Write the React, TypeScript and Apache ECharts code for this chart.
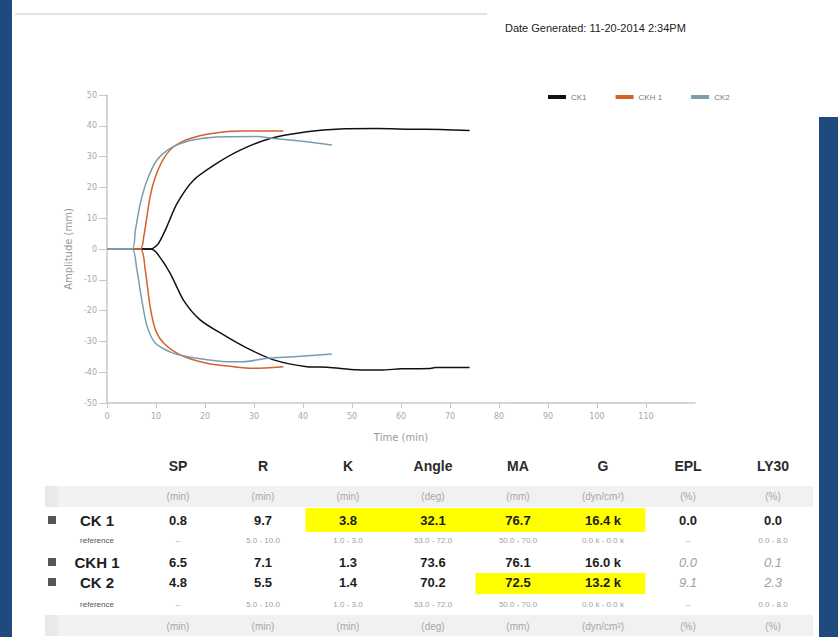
import React, { useEffect, useRef } from "react";
import * as echarts from "echarts";

// Amplitude traces [time (min), amplitude (mm)], upper and lower branch per sample
const ck1Upper: number[][] = [
  [0, 0], [8.9, 0], [10.2, 1.2], [10.9, 2.9], [12.2, 7.2], [14.3, 14.8], [17.7, 22.4], [22.4, 27.8],
  [27.2, 32.1], [33.3, 35.9], [40.8, 38.1], [47.6, 39], [55, 39.1], [62, 38.9], [68, 38.8], [74, 38.5],
];
const ck1Lower: number[][] = [
  [0, 0], [8.9, 0], [10.2, -1.4], [12.9, -7.9], [15.6, -16.6], [19, -23], [23.8, -27.9], [28.6, -32.2],
  [34, -36], [40.8, -38.2], [45, -38.4], [51, -39.2], [56, -39.3], [60, -38.9], [66, -38.8], [67, -38.5], [74, -38.5],
];
const ckh1Upper: number[][] = [
  [0, 0], [6.8, 0], [7.5, 4], [8.8, 17], [9.9, 23.5], [11.6, 29.4], [13.6, 33.2], [17, 35.9],
  [21.8, 37.6], [27.2, 38.3], [36, 38.3],
];
const ckh1Lower: number[][] = [
  [0, 0], [6.8, 0], [7.8, -6.8], [8.8, -18.7], [9.9, -26.3], [11.6, -30.6], [15, -34.4], [20.4, -37.1],
  [25.8, -38.2], [29.9, -38.7], [36, -38.2],
];
const ck2Upper: number[][] = [
  [0, 0], [5.1, 0], [5.8, 6.2], [6.8, 14.8], [8.2, 22.4], [10.2, 28.9], [12.9, 32.7], [17, 35.2],
  [21.8, 36.3], [30.6, 36.5], [34, 35.9], [40.8, 34.8], [45.9, 33.8],
];
const ck2Lower: number[][] = [
  [0, 0], [5.1, 0], [6.1, -6.8], [7.1, -16.6], [8.2, -25.2], [9.9, -30.6], [13.6, -33.9], [18.4, -35.5],
  [24.5, -36.6], [27.8, -36.6], [32.7, -35.5], [38.1, -35], [45.9, -34.1],
];

const sampleNames = ["CK1", "CKH 1", "CK2"];
const sampleColors = ["#111111", "#d5602a", "#7c9cb0"];

// Results table
const paramNames = ["SP", "R", "K", "Angle", "MA", "G", "EPL", "LY30"];
const paramUnits = ["(min)", "(min)", "(min)", "(deg)", "(mm)", "(dyn/cm²)", "(%)", "(%)"];
const referenceRanges = ["--", "5.0 - 10.0", "1.0 - 3.0", "53.0 - 72.0", "50.0 - 70.0", "0.0 k - 0.0 k", "--", "0.0 - 8.0"];
const ck1Values = ["0.8", "9.7", "3.8", "32.1", "76.7", "16.4 k", "0.0", "0.0"];
const ckh1Values = ["6.5", "7.1", "1.3", "73.6", "76.1", "16.0 k", "0.0", "0.1"];
const ck2Values = ["4.8", "5.5", "1.4", "70.2", "72.5", "13.2 k", "9.1", "2.3"];
const ck1Flagged = [2, 3, 4, 5];
const ck2Flagged = [4, 5];

const SANS = "'Liberation Sans', Arial, sans-serif";
const AXIS_FONT = "'DejaVu Sans', Verdana, sans-serif";

function buildTable(): any[] {
  const els: any[] = [];
  const colX = paramNames.map((_, i) => 178 + 85 * i);
  const colW = 85;
  const text = (t: string, x: number, y: number, font: string, fill: string, z = 3) => ({
    type: "text",
    z,
    style: { text: t, x, y, font, fill, textAlign: "center", textVerticalAlign: "middle", verticalAlign: "middle" },
  });

  // unit bands
  [[486, 21], [615, 21]].forEach(([y, h]) => {
    els.push({ type: "rect", z: 1, shape: { x: 45, y, width: 768, height: h }, style: { fill: "#f1f1f1" } });
    els.push({ type: "rect", z: 1, shape: { x: 45, y, width: 13, height: h }, style: { fill: "#e9e9e9" } });
  });

  // flagged cells
  const flagRow = (cols: number[], y: number, h: number) => {
    const first = Math.min(...cols);
    const last = Math.max(...cols);
    els.push({
      type: "rect",
      z: 2,
      shape: { x: colX[first] - colW / 2, y, width: (last - first + 1) * colW, height: h },
      style: { fill: "#ffff00" },
    });
  };
  flagRow(ck1Flagged, 508, 24);
  flagRow(ck2Flagged, 573, 21);

  paramNames.forEach((p, i) => els.push(text(p, colX[i], 466, `bold 14px ${SANS}`, "#2b2b2b")));
  paramUnits.forEach((u, i) => {
    els.push(text(u, colX[i], 496, `10px ${SANS}`, "#a8a8a8"));
    els.push(text(u, colX[i], 626, `10px ${SANS}`, "#a8a8a8"));
  });

  const rows = [
    { name: "CK 1", y: 520, values: ck1Values, italicFrom: 99, ref: 540 },
    { name: "CKH 1", y: 562, values: ckh1Values, italicFrom: 6, ref: 0 },
    { name: "CK 2", y: 582, values: ck2Values, italicFrom: 6, ref: 604 },
  ];
  rows.forEach((r) => {
    els.push({ type: "rect", z: 3, shape: { x: 48, y: r.y - 4, width: 8, height: 8 }, style: { fill: "#555555" } });
    els.push(text(r.name, 97, r.y, `bold 15px ${SANS}`, "#1e1e1e"));
    r.values.forEach((v, i) => {
      if (i >= r.italicFrom) {
        els.push(text(v, colX[i], r.y, `italic 13px ${SANS}`, "#a0a0a0"));
      } else {
        els.push(text(v, colX[i], r.y, `bold 13px ${SANS}`, "#1e1e1e"));
      }
    });
    if (r.ref) {
      els.push(text("reference", 97, r.ref, `8px ${SANS}`, "#555555"));
      referenceRanges.forEach((v, i) => els.push(text(v, colX[i], r.ref, `8px ${SANS}`, "#a0a0a0")));
    }
  });
  return els;
}

export default function App() {
  const ref = useRef<HTMLDivElement>(null);

  useEffect(() => {
    document.body.style.margin = "0";
    const chart = echarts.init(ref.current!, null, { renderer: "svg" });

    const line = (name: string, color: string, data: number[][]) => ({
      type: "line",
      name,
      data,
      showSymbol: false,
      smooth: 0.25,
      lineStyle: { width: 1.5, color },
      itemStyle: { color },
    });

    chart.setOption({
      animation: false,
      backgroundColor: "#ffffff",
      grid: { left: 107, right: 143, top: 95, bottom: 234 },
      legend: {
        data: sampleNames,
        left: 543,
        top: 88,
        icon: "rect",
        itemWidth: 18,
        itemHeight: 4,
        itemGap: 29,
        textStyle: { fontSize: 8, color: "#777", fontFamily: SANS },
      },
      xAxis: {
        type: "value",
        min: 0,
        max: 120,
        interval: 10,
        name: "Time (min)",
        nameLocation: "middle",
        nameGap: 29,
        nameTextStyle: { fontSize: 10, color: "#999", fontFamily: AXIS_FONT },
        axisLine: { onZero: false, lineStyle: { color: "#c8c8c8", width: 1.5 } },
        axisTick: { length: 5, lineStyle: { color: "#c8c8c8" } },
        axisLabel: { fontSize: 8, color: "#a8a8a8", margin: 9, showMaxLabel: false, fontFamily: AXIS_FONT },
        splitLine: { show: false },
      },
      yAxis: {
        type: "value",
        min: -50,
        max: 50,
        interval: 10,
        name: "Amplitude (mm)",
        nameLocation: "middle",
        nameGap: 34,
        nameTextStyle: { fontSize: 10, color: "#999", fontFamily: AXIS_FONT },
        axisLine: { show: true, onZero: false, lineStyle: { color: "#c8c8c8", width: 1.5 } },
        axisTick: { show: true, length: 8, lineStyle: { color: "#c8c8c8" } },
        axisLabel: { fontSize: 8, color: "#a8a8a8", margin: 10, fontFamily: AXIS_FONT },
        splitLine: { show: false },
      },
      series: [
        line(sampleNames[0], sampleColors[0], ck1Upper),
        line(sampleNames[0], sampleColors[0], ck1Lower),
        line(sampleNames[1], sampleColors[1], ckh1Upper),
        line(sampleNames[1], sampleColors[1], ckh1Lower),
        line(sampleNames[2], sampleColors[2], ck2Upper),
        line(sampleNames[2], sampleColors[2], ck2Lower),
      ],
      graphic: [
        { type: "rect", z: 5, shape: { x: 0, y: 0, width: 12, height: 637 }, style: { fill: "#1f4a7d" } },
        { type: "rect", z: 5, shape: { x: 819, y: 117, width: 19, height: 520 }, style: { fill: "#1f4a7d" } },
        { type: "rect", z: 1, shape: { x: 15, y: 13, width: 472, height: 2 }, style: { fill: "#e2e2e2" } },
        {
          type: "text",
          z: 3,
          style: {
            text: "Date Generated: 11-20-2014 2:34PM",
            x: 505,
            y: 28,
            font: `11px ${SANS}`,
            fill: "#222",
            textVerticalAlign: "middle",
            verticalAlign: "middle",
          },
        },
        ...buildTable(),
      ],
    });

    return () => chart.dispose();
  }, []);

  return <div ref={ref} style={{ position: "fixed", left: 0, top: 0, width: 838, height: 637 }} />;
}
